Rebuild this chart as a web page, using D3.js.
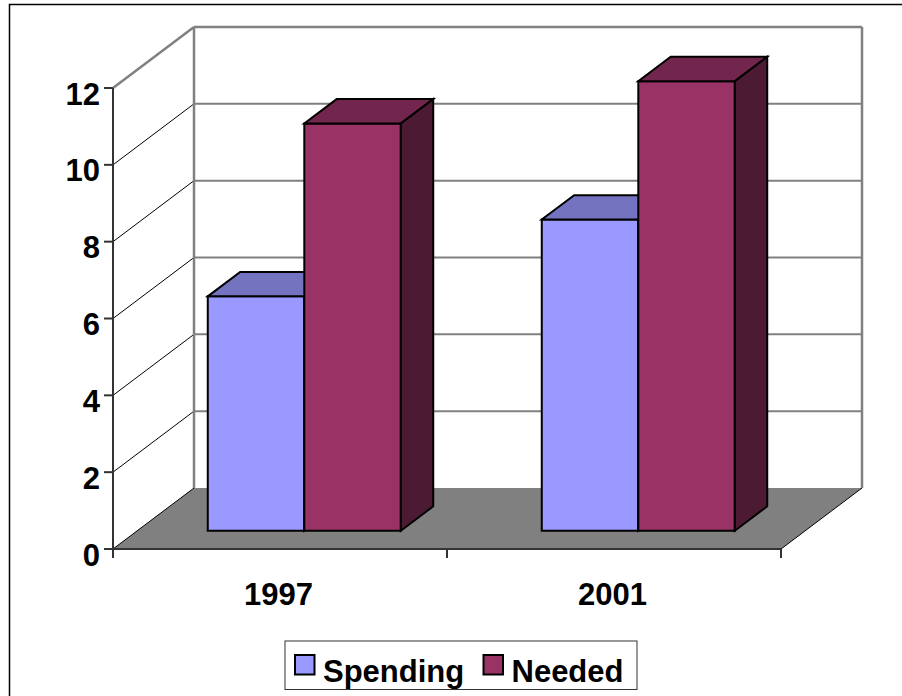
<!DOCTYPE html>
<html>
<head>
<meta charset="utf-8">
<script src="https://cdn.jsdelivr.net/npm/d3@7"></script>
<style>
  html, body { margin: 0; padding: 0; background: #fff; }
  svg { display: block; }
  text { font-family: "Liberation Sans", Arial, sans-serif; font-weight: bold; fill: #000; }
</style>
</head>
<body>
<script>
// ---- data ----
const categories = ["1997", "2001"];
const seriesNames = ["Spending", "Needed"];
const spending = [6.1, 8.1];
const needed = [10.6, 11.7];
const yTicks = [0, 2, 4, 6, 8, 10, 12];

const frontColors = ["#9999FF", "#993366"];
const topColors = ["#7373BF", "#73264D"];
const sideColors = ["#4D4D80", "#4D1A33"];

// ---- layout ----
const W = 902, H = 696;
const X0 = 113, X1 = 781, Y0 = 549, Y1 = 88;
const DX = 81, DY = -61;          // full depth offset
const D0 = 0.3, D1 = 0.7;         // bar depth range

const svg = d3.select("body").append("svg").attr("width", W).attr("height", H);

const x = d3.scaleBand().domain(categories).range([X0, X1]);
const xs = d3.scaleBand().domain(seriesNames).range([0, x.bandwidth()]).paddingOuter(0.73);
const y = d3.scaleLinear().domain([0, 12]).range([Y0, Y1]);
const P = (px, py, d) => [px + DX * d, py + DY * d];
const line = d3.line();

// outer border
svg.append("rect").attr("x", 9.5).attr("y", 4.5).attr("width", 1000).attr("height", 1000)
  .attr("fill", "none").attr("stroke", "#000").attr("stroke-width", 1.5);

// floor
svg.append("path")
  .attr("d", line([P(X0, Y0, 0), P(X1, Y0, 0), P(X1, Y0, 1), P(X0, Y0, 1)]) + "Z")
  .attr("fill", "#808080").attr("stroke", "none");

// left wall gridlines (diagonal)
svg.append("g").selectAll("path").data(yTicks.filter(v => v < 12)).join("path")
  .attr("d", v => line([P(X0, y(v), 0), P(X0, y(v), 1)]))
  .attr("stroke", "#000").attr("stroke-width", 1).attr("fill", "none");

// back wall gridlines
svg.append("g").selectAll("path").data(yTicks.filter(v => v > 0 && v < 12)).join("path")
  .attr("d", v => line([P(X0, y(v), 1), P(X1, y(v), 1)]))
  .attr("stroke", "#808080").attr("stroke-width", 2).attr("fill", "none");

// wall edges (gray)
const wallEdges = [
  [P(X0, y(12), 0), P(X0, y(12), 1)],
  [P(X0, y(12), 1), P(X1, y(12), 1)],
  [P(X0, y(12), 1), P(X0, y(0), 1)],
  [P(X1, y(12), 1), P(X1, y(0), 1)]
];
svg.append("g").selectAll("path").data(wallEdges).join("path")
  .attr("d", d => line(d))
  .attr("stroke", "#808080").attr("stroke-width", 2.5).attr("fill", "none");

// floor right diagonal edge
svg.append("path").attr("d", line([P(X1, Y0, 0), P(X1, Y0, 1)]))
  .attr("stroke", "#000").attr("stroke-width", 1).attr("fill", "none");

// axes
const axisColor = "#333";
svg.append("path").attr("d", line([[X0, y(12)], [X0, Y0]]))
  .attr("stroke", axisColor).attr("stroke-width", 2).attr("fill", "none");
svg.append("path").attr("d", line([[X0 - 9, Y0], [X1, Y0]]))
  .attr("stroke", axisColor).attr("stroke-width", 2).attr("fill", "none");
svg.append("g").selectAll("path").data(yTicks).join("path")
  .attr("d", v => line([[X0 - 9, y(v)], [X0, y(v)]]))
  .attr("stroke", axisColor).attr("stroke-width", 2);
const xTickPos = [X0, ...categories.map(c => x(c) + x.bandwidth())];
svg.append("g").selectAll("path").data(xTickPos).join("path")
  .attr("d", px => line([[px, Y0], [px, Y0 + 9]]))
  .attr("stroke", axisColor).attr("stroke-width", 2);

// bars
const barData = [];
categories.forEach((c, i) => {
  [spending[i], needed[i]].forEach((v, s) => {
    barData.push({ cat: c, s, v });
  });
});
const bars = svg.append("g").selectAll("g").data(barData).join("g");
bars.each(function (d) {
  const g = d3.select(this);
  const xl = x(d.cat) + xs(seriesNames[d.s]);
  const xr = xl + xs.bandwidth();
  const yt = y(d.v), yb = y(0);
  const front = [P(xl, yb, D0), P(xr, yb, D0), P(xr, yt, D0), P(xl, yt, D0)];
  const top = [P(xl, yt, D0), P(xr, yt, D0), P(xr, yt, D1), P(xl, yt, D1)];
  const side = [P(xr, yb, D0), P(xr, yb, D1), P(xr, yt, D1), P(xr, yt, D0)];
  [[front, frontColors], [top, topColors], [side, sideColors]].forEach(([pts, cols]) => {
    g.append("path").attr("d", line(pts) + "Z")
      .attr("fill", cols[d.s]).attr("stroke", "#000").attr("stroke-width", 2)
      .attr("stroke-linejoin", "miter");
  });
});

// y labels
svg.append("g").selectAll("text").data(yTicks).join("text")
  .attr("x", 100).attr("y", v => y(v) + 16.5)
  .attr("text-anchor", "end").attr("font-size", 31)
  .text(v => v);

// x labels
svg.append("g").selectAll("text").data(categories).join("text")
  .attr("x", c => x(c) + x.bandwidth() / 2 - 1.5).attr("y", 605)
  .attr("text-anchor", "middle").attr("font-size", 31)
  .text(c => c);

// legend
const lg = svg.append("g");
lg.append("rect").attr("x", 285).attr("y", 641).attr("width", 352).attr("height", 48.5)
  .attr("fill", "#fff").attr("stroke", "#333").attr("stroke-width", 1);
const legendItems = [
  { name: seriesNames[0], color: frontColors[0], sx: 295, tx: 323 },
  { name: seriesNames[1], color: frontColors[1], sx: 483.5, tx: 511.5 }
];
legendItems.forEach(it => {
  lg.append("rect").attr("x", it.sx).attr("y", 655).attr("width", 19.5).attr("height", 19.5)
    .attr("fill", it.color).attr("stroke", "#000").attr("stroke-width", 2);
  lg.append("text").attr("x", it.tx).attr("y", 681.5).attr("font-size", 31).text(it.name);
});
</script>
</body>
</html>
